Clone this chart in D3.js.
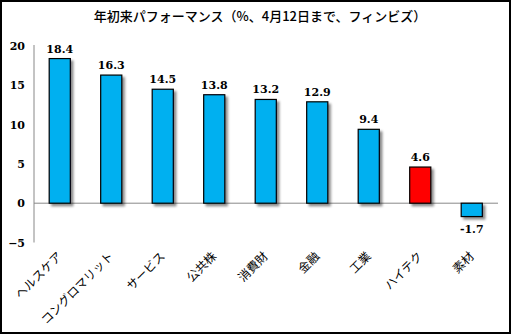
<!DOCTYPE html>
<html><head><meta charset="utf-8">
<script src="https://cdn.jsdelivr.net/npm/d3@7"></script>
<style>
html,body{margin:0;padding:0;background:#fff;}
svg{display:block;}
</style></head>
<body>
<svg id="c" width="511" height="334"></svg>
<script>
const title = "年初来パフォーマンス（%、4月12日まで、フィンビズ）";
const categories = ["ヘルスケア","コングロマリット","サービス","公共株","消費財","金融","工業","ハイテク","素材"];
const values = [18.4,16.3,14.5,13.8,13.2,12.9,9.4,4.6,-1.7];
const highlight = ["ハイテク"];
const yTicks = [-5,0,5,10,15,20];

const W=511,H=334;
const svg=d3.select("#c");
const defs=svg.append("defs");
const f=defs.append("filter").attr("id","sh").attr("x","-20%").attr("y","-20%").attr("width","160%").attr("height","160%");
f.append("feDropShadow").attr("dx",2.5).attr("dy",2.5).attr("stdDeviation",1.2).attr("flood-color","#000").attr("flood-opacity",0.45);

svg.append("rect").attr("x",1).attr("y",1).attr("width",W-2).attr("height",H-2).attr("fill","#fff").attr("stroke","#000").attr("stroke-width",2);

svg.append("text").attr("x",260).attr("y",21).attr("text-anchor","middle")
  .attr("font-family","'Noto Sans CJK JP'").attr("font-size",13).attr("font-weight",500).text(title);

const x=d3.scaleBand().domain(categories).range([34,497.5]).paddingInner(0.59).paddingOuter(0.295);
const y=d3.scaleLinear().domain([-5,20]).range([242.5,46]);

// y axis
const ya=svg.append("g").attr("transform","translate(34,0)").call(d3.axisLeft(y).tickValues(yTicks).tickSize(0).tickPadding(9));
ya.select(".domain").attr("stroke","#888").attr("stroke-width",1).attr("d",`M0,${y(20)-1}V${y(-5)}`);
ya.selectAll("text").attr("font-family","'DejaVu Serif'").attr("font-weight","bold").attr("font-size",11).attr("fill","#000");

// zero line
svg.append("line").attr("x1",34).attr("x2",498).attr("y1",y(0)).attr("y2",y(0)).attr("stroke","#888").attr("stroke-width",1);

// bars
svg.append("g").selectAll("rect").data(categories).join("rect")
  .attr("x",d=>x(d)).attr("width",x.bandwidth())
  .attr("y",(d,i)=>y(Math.max(0,values[i])))
  .attr("height",(d,i)=>Math.abs(y(values[i])-y(0)))
  .attr("fill",d=>highlight.includes(d)?"#FF0000":"#00B0F0")
  .attr("stroke","#000").attr("stroke-width",1.2)
  .attr("filter","url(#sh)");

// value labels
svg.append("g").selectAll("text").data(categories).join("text")
  .attr("x",d=>x(d)+x.bandwidth()/2)
  .attr("y",(d,i)=>values[i]>=0?y(values[i])-6:y(values[i])+16)
  .attr("text-anchor","middle")
  .attr("font-family","'DejaVu Serif'").attr("font-weight","bold").attr("font-size",11)
  .text((d,i)=>values[i].toFixed(1));

// x labels
svg.append("g").selectAll("text").data(categories).join("text")
  .attr("transform",d=>`translate(${x(d)+x.bandwidth()/2+3},${257}) rotate(-45)`)
  .attr("text-anchor","end")
  .attr("font-family","'Noto Sans CJK JP'").attr("font-size",12)
  .text(d=>d);
</script>
</body></html>
